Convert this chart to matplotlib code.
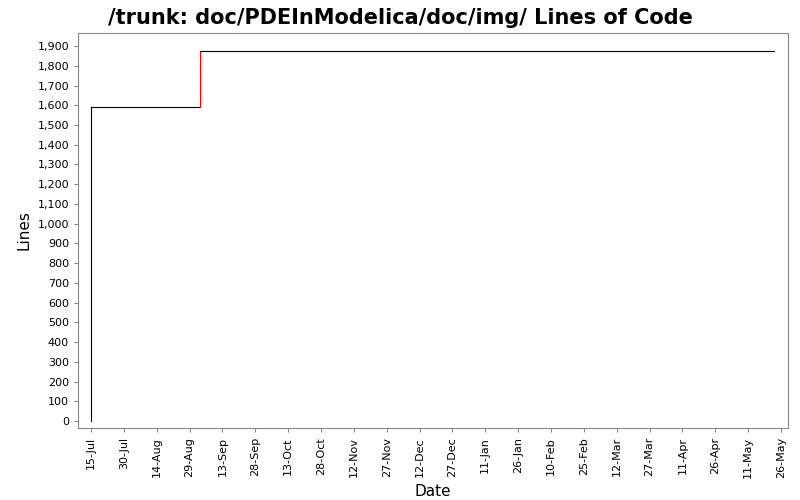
import matplotlib
matplotlib.use("Agg")
import matplotlib.pyplot as plt
import matplotlib.dates as mdates
from matplotlib.ticker import FuncFormatter, MultipleLocator
from datetime import datetime, timedelta

# data
dates = [datetime(2008, 7, 15), datetime(2008, 7, 15), datetime(2008, 9, 3),
         datetime(2008, 9, 3), datetime(2009, 5, 23)]
lines = [0, 1590, 1590, 1873, 1873]
seg_color = ['#000000', '#000000', '#ff0000', '#000000']

fig = plt.figure(figsize=(8, 5), dpi=100)
ax = fig.add_axes([0.0975, 0.144, 0.8875, 0.79])

for i in range(len(dates) - 1):
    ax.plot(dates[i:i + 2], lines[i:i + 2], color=seg_color[i], lw=0.8)

start = datetime(2008, 7, 15)
ax.set_xlim(start - timedelta(days=5.9), start + timedelta(days=318.2))
ax.set_ylim(-35, 1966)
ticks = [start + timedelta(days=15 * k) for k in range(22)]
ax.set_xticks(ticks)
ax.xaxis.set_major_formatter(mdates.DateFormatter('%d-%b'))
ax.yaxis.set_major_locator(MultipleLocator(100))
ax.yaxis.set_major_formatter(FuncFormatter(lambda v, p: f'{int(v):,}'))
plt.setp(ax.get_xticklabels(), rotation=90, fontsize=8)
plt.setp(ax.get_yticklabels(), fontsize=8)
ax.tick_params(length=3, color='#888888')
for s in ax.spines.values():
    s.set_color('#888888')
ax.set_xlabel('Date', fontsize=11)
ax.set_ylabel('Lines', fontsize=11)
fig.suptitle('/trunk: doc/PDEInModelica/doc/img/ Lines of Code', fontsize=15,
             fontweight='bold', y=0.985)
fig.savefig('out.png')
